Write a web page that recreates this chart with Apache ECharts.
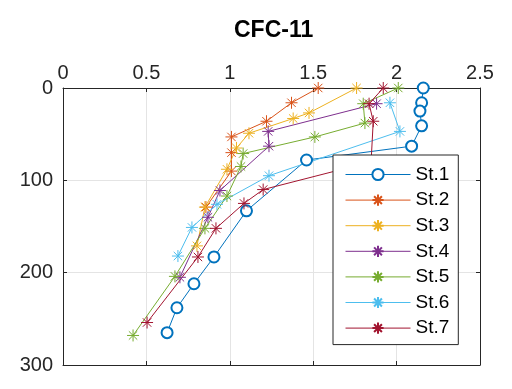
<!DOCTYPE html>
<html>
<head>
<meta charset="utf-8">
<script src="https://cdn.jsdelivr.net/npm/echarts@6/dist/echarts.min.js"></script>
<style>
  html, body { margin: 0; padding: 0; background: #ffffff; }
  #chart { width: 512px; height: 389px; }
</style>
</head>
<body>
<div id="chart"></div>
<script>
// CFC-11 concentration profiles, depth (m) against concentration, per station
const stationNames = ['St.1', 'St.2', 'St.3', 'St.4', 'St.5', 'St.6', 'St.7'];

const st1Conc  = [2.16, 2.15, 2.14, 2.15, 2.09, 1.46, 1.10, 0.905, 0.785, 0.683, 0.624];
const st1Depth = [0, 16, 25, 41, 63, 78, 133, 183, 212, 238, 265];

const st2Conc  = [1.53, 1.37, 1.22, 1.01, 1.01, 1.01, 0.857];
const st2Depth = [0, 16, 36, 53, 70, 90, 129];

const st3Conc  = [1.76, 1.475, 1.38, 1.115, 1.04, 0.983, 0.851, 0.803];
const st3Depth = [0, 27, 33, 49, 65, 88, 129, 171];

const st4Conc  = [1.88, 1.23, 1.235, 0.941, 0.869, 0.701];
const st4Depth = [17, 47, 63, 111, 140, 205];

const st5Conc  = [2.01, 1.80, 1.81, 1.51, 1.08, 1.067, 0.983, 0.851, 0.671, 0.420];
const st5Depth = [0, 17, 38, 53, 71, 85, 117, 152, 204, 268];

const st6Conc  = [1.96, 2.02, 1.235, 0.923, 0.773, 0.689];
const st6Depth = [16, 47, 95, 126, 151, 182];

const st7Conc  = [1.92, 1.835, 1.86, 1.847, 1.20, 1.085, 0.917, 0.809, 0.504];
const st7Depth = [0, 17, 36, 80, 110, 125, 152, 183, 254];

const concTicks = { min: 0, max: 2.5, step: 0.5 };
const depthTicks = { min: 0, max: 300, step: 100 };

const stationColors = ['#0072BD', '#D95319', '#EDB120', '#7E2F8E', '#77AC30', '#4DBEEE', '#A2142F'];
const stationConc = [st1Conc, st2Conc, st3Conc, st4Conc, st5Conc, st6Conc, st7Conc];
const stationDepth = [st1Depth, st2Depth, st3Depth, st4Depth, st5Depth, st6Depth, st7Depth];

// asterisk marker: plus combined with a cross
const asterisk = 'path://M0,-1L0,1M-1,0L1,0M-0.7,-0.7L0.7,0.7M-0.7,0.7L0.7,-0.7';

const font = 'Liberation Sans, Arial, Helvetica, sans-serif';
const ink = '#262626';
const gridColor = '#e4e4e4';

const series = stationNames.map((name, i) => ({
  name: name,
  type: 'line',
  xAxisIndex: 0,
  yAxisIndex: 0,
  data: stationConc[i].map((c, k) => [c, stationDepth[i][k]]),
  symbol: i === 0 ? 'emptyCircle' : asterisk,
  symbolSize: i === 0 ? 11 : 12,
  showAllSymbol: true,
  animation: false,
  lineStyle: { color: stationColors[i], width: 1 },
  itemStyle: {
    color: stationColors[i],
    borderColor: stationColors[i],
    borderWidth: 1
  },
  emphasis: { disabled: true }
}));

const chart = echarts.init(document.getElementById('chart'), null, { renderer: 'canvas' });
chart.setOption({
  backgroundColor: '#ffffff',
  animation: false,
  title: {
    text: 'CFC-11',
    left: 229,
    top: 14,
    textStyle: { fontFamily: font, fontSize: 23, fontWeight: 'bold', color: '#000000' }
  },
  grid: { left: 63, top: 88, width: 417, height: 277, show: false },
  legend: {
    orient: 'vertical',
    left: 333,
    top: 155,
    data: stationNames,
    itemWidth: 65,
    itemHeight: 14,
    itemGap: 6.6,
    padding: [10, 9, 7, 12],
    backgroundColor: '#ffffff',
    borderColor: ink,
    borderWidth: 1,
    borderRadius: 0,
    selectedMode: false,
    lineStyle: { width: 1 },
    textStyle: { fontFamily: font, fontSize: 19, color: '#000000' }
  },
  xAxis: [
    {
      type: 'value', position: 'top',
      min: concTicks.min, max: concTicks.max, interval: concTicks.step,
      axisLine: { show: true, lineStyle: { color: ink, width: 1 } },
      axisTick: { show: true, inside: true, length: 4, lineStyle: { color: ink } },
      axisLabel: { margin: 5, fontFamily: font, fontSize: 20, color: ink },
      splitLine: { show: true, lineStyle: { color: gridColor, width: 1 } }
    },
    {
      type: 'value', position: 'bottom',
      min: concTicks.min, max: concTicks.max, interval: concTicks.step,
      axisLine: { show: true, onZero: false, lineStyle: { color: ink, width: 1 } },
      axisTick: { show: true, inside: true, length: 4, lineStyle: { color: ink } },
      axisLabel: { show: false },
      splitLine: { show: false }
    }
  ],
  yAxis: [
    {
      type: 'value', position: 'left', inverse: true,
      min: depthTicks.min, max: depthTicks.max, interval: depthTicks.step,
      axisLine: { show: true, onZero: false, lineStyle: { color: ink, width: 1 } },
      axisTick: { show: true, inside: true, length: 4, lineStyle: { color: ink } },
      axisLabel: { margin: 10, fontFamily: font, fontSize: 20, color: ink },
      splitLine: { show: true, lineStyle: { color: gridColor, width: 1 } }
    },
    {
      type: 'value', position: 'right', inverse: true,
      min: depthTicks.min, max: depthTicks.max, interval: depthTicks.step,
      axisLine: { show: true, onZero: false, lineStyle: { color: ink, width: 1 } },
      axisTick: { show: true, inside: true, length: 4, lineStyle: { color: ink } },
      axisLabel: { show: false },
      splitLine: { show: false }
    }
  ],
  series: series
});
</script>
</body>
</html>
